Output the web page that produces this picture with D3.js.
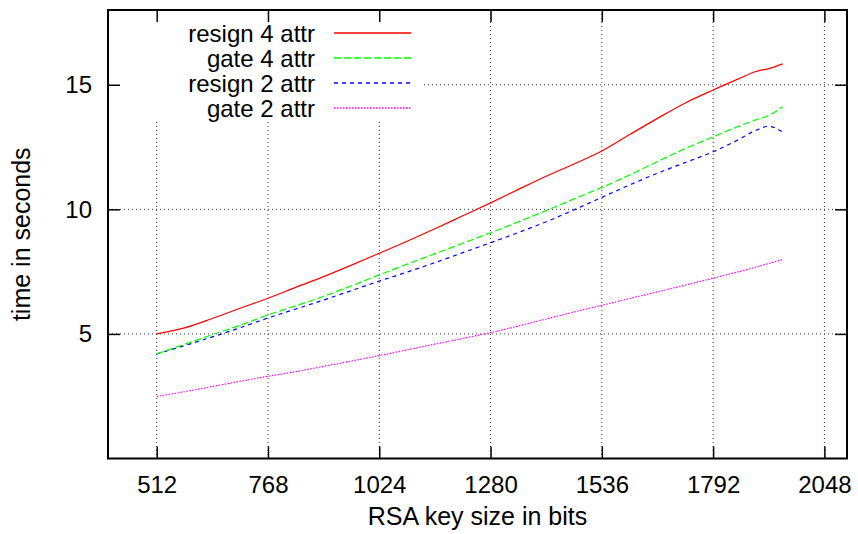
<!DOCTYPE html>
<html>
<head>
<meta charset="utf-8">
<script src="https://cdn.jsdelivr.net/npm/d3@7"></script>
<style>
  body { margin: 0; background: #fff; }
  svg { display: block; font-family: "Liberation Sans", Arial, Helvetica, sans-serif; }
</style>
</head>
<body>
<svg id="chart"></svg>
<script>
// key sizes (bits) and timings (seconds)
const keySizes = [512, 576, 640, 704, 768, 832, 896, 960, 1024, 1088, 1152, 1216, 1280,
                  1344, 1408, 1472, 1536, 1600, 1664, 1728, 1792, 1856, 1888, 1920, 1952];
const resign4 = [5.00, 5.24, 5.62, 6.03, 6.43, 6.87, 7.30, 7.76, 8.24, 8.72, 9.22, 9.74, 10.26,
                 10.80, 11.33, 11.82, 12.34, 13.00, 13.65, 14.27, 14.79, 15.28, 15.52, 15.65, 15.84];
const gate4 = [4.20, 4.58, 4.97, 5.35, 5.76, 6.13, 6.51, 6.93, 7.37, 7.80, 8.22, 8.64, 9.06,
               9.50, 9.95, 10.42, 10.88, 11.38, 11.92, 12.44, 12.91, 13.37, 13.58, 13.77, 14.12];
const resign2 = [4.20, 4.53, 4.88, 5.25, 5.64, 6.00, 6.36, 6.74, 7.12, 7.48, 7.86, 8.26, 8.66,
                 9.07, 9.50, 9.98, 10.48, 10.98, 11.45, 11.88, 12.31, 12.85, 13.15, 13.33, 13.10];
const gate2 = [2.49, 2.68, 2.89, 3.10, 3.30, 3.49, 3.70, 3.91, 4.13, 4.36, 4.59, 4.82, 5.05,
               5.32, 5.60, 5.88, 6.15, 6.42, 6.69, 6.96, 7.24, 7.52, 7.67, 7.83, 7.98];

const seriesNames = ['resign 4 attr', 'gate 4 attr', 'resign 2 attr', 'gate 2 attr'];
const xTicks = [512, 768, 1024, 1280, 1536, 1792, 2048];
const yTicks = [5, 10, 15];

const W = 858, H = 534;
const pLeft = 108, pRight = 847, pTop = 10, pBottom = 458.5;
const fontSize = 24;

const svg = d3.select('#chart').attr('width', W).attr('height', H);

const x = d3.scaleLinear().domain([400, 2100]).range([pLeft, pRight]);
const y = d3.scaleLinear().domain([0, 18]).range([pBottom, pTop]);

// grid
const grid = svg.append('g')
  .attr('stroke', '#333').attr('stroke-width', 1).attr('stroke-dasharray', '1,3');
grid.selectAll('.vg').data(xTicks).join('line')
  .attr('x1', d => x(d)).attr('x2', d => x(d))
  .attr('y1', pTop).attr('y2', pBottom);
grid.selectAll('.hg').data(yTicks).join('line')
  .attr('x1', pLeft).attr('x2', pRight)
  .attr('y1', d => y(d)).attr('y2', d => y(d));

// key area blanks out the grid behind it
svg.append('rect')
  .attr('x', pLeft).attr('y', pTop)
  .attr('width', 424 - pLeft).attr('height', 121 - pTop)
  .attr('fill', '#fff');

// ticks on all four sides, pointing inwards
const axB = svg.append('g').attr('transform', `translate(0,${pBottom})`)
  .call(d3.axisBottom(x).tickValues(xTicks).tickSize(-12).tickFormat(d3.format('d')));
const axL = svg.append('g').attr('transform', `translate(${pLeft},0)`)
  .call(d3.axisLeft(y).tickValues(yTicks).tickSize(-12));
svg.append('g').attr('transform', `translate(0,${pTop})`)
  .call(d3.axisTop(x).tickValues(xTicks).tickSize(-12).tickFormat(''));
svg.append('g').attr('transform', `translate(${pRight},0)`)
  .call(d3.axisRight(y).tickValues(yTicks).tickSize(-12).tickFormat(''));

svg.selectAll('.domain').remove();
svg.selectAll('.tick line').attr('stroke', '#000').attr('stroke-width', 1.5);

axB.selectAll('text')
  .attr('y', 34).attr('dy', null)
  .attr('font-size', fontSize).attr('fill', '#000')
  .attr('font-family', '"Liberation Sans", Arial, sans-serif');
axL.selectAll('text')
  .attr('x', -16).attr('dy', 8)
  .attr('font-size', fontSize).attr('fill', '#000')
  .attr('font-family', '"Liberation Sans", Arial, sans-serif');

// frame
svg.append('rect')
  .attr('x', pLeft).attr('y', pTop)
  .attr('width', pRight - pLeft).attr('height', pBottom - pTop)
  .attr('fill', 'none').attr('stroke', '#000').attr('stroke-width', 2);

// lines
const series = [
  {name: seriesNames[0], values: resign4, color: '#ff0000', dash: null},
  {name: seriesNames[1], values: gate4, color: '#00ff00', dash: '7,3'},
  {name: seriesNames[2], values: resign2, color: '#0000ff', dash: '4,4'},
  {name: seriesNames[3], values: gate2, color: '#ff00ff', dash: '1.5,1.5'}
];

const line = d3.line()
  .x((d, i) => x(keySizes[i]))
  .y(d => y(d))
  .curve(d3.curveMonotoneX);

// draw back to front so the red line sits on top
series.slice().reverse().forEach(s => {
  svg.append('path')
    .datum(s.values)
    .attr('fill', 'none')
    .attr('stroke', s.color)
    .attr('stroke-width', 1.2)
    .attr('stroke-dasharray', s.dash)
    .attr('d', line);
});

// key
const key = svg.append('g');
series.forEach((s, i) => {
  const cy = 33 + i * 25;
  key.append('text')
    .attr('x', 315).attr('y', cy + 9)
    .attr('text-anchor', 'end')
    .attr('font-size', fontSize)
    .attr('fill', '#000')
    .text(s.name);
  key.append('line')
    .attr('x1', 334).attr('x2', 411)
    .attr('y1', cy).attr('y2', cy)
    .style('stroke', s.color).attr('stroke-width', 1.3)
    .attr('stroke-dasharray', s.dash);
});

// axis titles
svg.append('text')
  .attr('x', (pLeft + pRight) / 2).attr('y', 525)
  .attr('text-anchor', 'middle')
  .attr('font-size', 25)
  .text('RSA key size in bits');

svg.append('text')
  .attr('transform', `translate(30,${(pTop + pBottom) / 2}) rotate(-90)`)
  .attr('text-anchor', 'middle')
  .attr('font-size', 25)
  .text('time in seconds');
</script>
</body>
</html>
